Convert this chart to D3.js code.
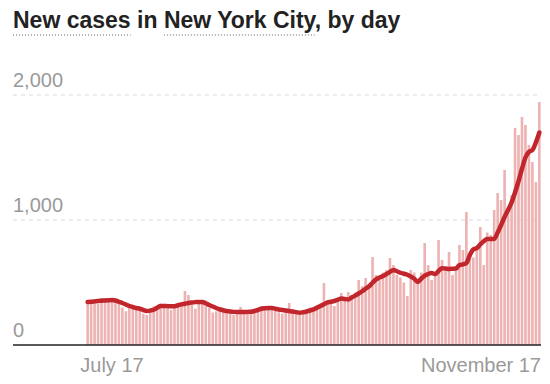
<!DOCTYPE html>
<html>
<head>
<meta charset="utf-8">
<script src="https://cdn.jsdelivr.net/npm/d3@7"></script>
<style>
  html, body { margin: 0; padding: 0; background: #fff; }
  svg { display: block; }
</style>
</head>
<body>
<svg id="chart" width="550" height="384"></svg>
<script>
// ---- Data ----
const startDate = "2020-07-10";
const endDate = "2020-11-17";
const dailyCases = [
  350, 340, 360, 330, 376, 372, 350, 345, 365, 340,
  300, 270, 318, 300, 310, 290, 250, 240, 290, 310,
  300, 330, 318, 296, 280, 320, 330, 328, 432, 400,
  320, 290, 340, 352, 330, 296, 260, 270, 300, 282,
  268, 250, 240, 262, 304, 270, 262, 250, 256, 290,
  312, 300, 280, 296, 286, 262, 250, 268, 336, 272,
  250, 240, 248, 280, 300, 296, 320, 330, 496, 360,
  340, 312, 380, 416, 384, 424, 400, 420, 520, 470,
  536, 480, 704, 560, 520, 580, 600, 696, 640, 560,
  540, 500, 392, 600, 580, 500, 580, 816, 640, 520,
  560, 840, 680, 600, 744, 560, 620, 800, 760, 1064,
  720, 700, 780, 944, 640, 900, 880, 1080, 1216, 1160,
  1400, 1100, 1200, 1736, 1680, 1824, 1760, 1600, 1464, 1304,
  1944
];
const sevenDayAvg = [
  344, 346, 349, 352, 354, 356, 358, 360, 356, 346,
  336, 324, 312, 304, 296, 290, 280, 272, 275, 282,
  298, 312, 312, 311, 310, 310, 318, 325, 330, 336,
  340, 343, 345, 344, 334, 320, 308, 296, 286, 278,
  272, 268, 265, 264, 264, 264, 265, 266, 272, 280,
  290, 294, 296, 296, 290, 284, 280, 276, 272, 268,
  263, 258, 262, 268, 276, 285, 298, 312, 326, 340,
  346, 352, 362, 372, 368, 365, 380, 395, 412, 430,
  450, 470, 498, 525, 540, 552, 568, 585, 600, 590,
  578, 570, 562, 548, 530, 505, 530, 555, 568, 576,
  568, 592, 615, 612, 608, 610, 612, 640, 645, 656,
  720, 765, 775, 805, 830, 848, 848, 850, 900, 960,
  1024, 1080, 1140, 1220, 1310, 1410, 1500, 1545, 1560, 1620,
  1700
];
const yTicks = [0, 1000, 2000];
const xTickDates = ["2020-07-17", "2020-11-17"];
const xTickLabels = ["July 17", "November 17"];
const titleParts = [
  {text: "New cases", underline: true},
  {text: " in ", underline: false},
  {text: "New York City", underline: true},
  {text: ", by day", underline: false}
];

// ---- Build ----
const parse = d3.timeParse("%Y-%m-%d");
const days = d3.timeDay.range(parse(startDate), d3.timeDay.offset(parse(endDate), 1));
const data = days.map((d, i) => ({date: d, cases: dailyCases[i], avg: sevenDayAvg[i]}));

const svg = d3.select("#chart");
const left = 13, right = 541, plotLeft = 86;
const y = d3.scaleLinear().domain([0, 2000]).range([345, 95]);
const x = d3.scaleBand().domain(days.map(d => +d)).range([plotLeft, right]).paddingInner(0.25).paddingOuter(0.1);
const xc = d => x(+d) + x.bandwidth() / 2;

// gridlines
svg.append("g").selectAll("line").data(yTicks.filter(t => t > 0)).join("line")
  .attr("x1", left).attr("x2", right)
  .attr("y1", d => y(d)).attr("y2", d => y(d))
  .attr("stroke", "#d9d9d9").attr("stroke-width", 1).attr("stroke-dasharray", "4,4");

// y labels
const fmt = d3.format(",");
svg.append("g").selectAll("text").data(yTicks).join("text")
  .attr("x", left).attr("y", d => y(d) - 8)
  .attr("font-family", "Liberation Sans, Arial, sans-serif")
  .attr("font-size", 20).attr("fill", "#9a9a9a")
  .text(d => fmt(d));

// bars
svg.append("g").selectAll("rect").data(data).join("rect")
  .attr("x", d => x(+d.date)).attr("width", x.bandwidth())
  .attr("y", d => y(d.cases)).attr("height", d => y(0) - y(d.cases))
  .attr("fill", "#edb2b2");

// baseline
svg.append("line").attr("x1", left).attr("x2", right)
  .attr("y1", y(0)).attr("y2", y(0))
  .attr("stroke", "#222").attr("stroke-width", 1.5);

// average line
const line = d3.line().x(d => xc(d.date)).y(d => y(d.avg)).curve(d3.curveMonotoneX);
svg.append("path").datum(data).attr("d", line)
  .attr("fill", "none").attr("stroke", "#c0262b").attr("stroke-width", 4.5)
  .attr("stroke-linejoin", "round").attr("stroke-linecap", "round");

// x labels
xTickDates.forEach((ds, i) => {
  const d = parse(ds);
  const last = i === xTickDates.length - 1;
  svg.append("text")
    .attr("x", last ? right : xc(d)).attr("y", 372)
    .attr("text-anchor", last ? "end" : "middle")
    .attr("font-family", "Liberation Sans, Arial, sans-serif")
    .attr("font-size", 20).attr("fill", "#9a9a9a")
    .text(xTickLabels[i]);
});

// title
const title = svg.append("text").attr("x", left).attr("y", 28)
  .attr("font-family", "Liberation Sans, Arial, sans-serif")
  .attr("font-weight", "bold").attr("font-size", 23).attr("fill", "#222");
titleParts.forEach(p => title.append("tspan").text(p.text));
const tnode = title.node();
let offset = 0;
titleParts.forEach(p => {
  const w = tnode.getSubStringLength(offset, p.text.length);
  const x0 = tnode.getStartPositionOfChar(offset).x;
  if (p.underline) {
    svg.append("line").attr("x1", x0).attr("x2", x0 + w)
      .attr("y1", 35).attr("y2", 35)
      .attr("stroke", "#666").attr("stroke-width", 1.2).attr("stroke-dasharray", "1,2");
  }
  offset += p.text.length;
});
</script>
</body>
</html>
